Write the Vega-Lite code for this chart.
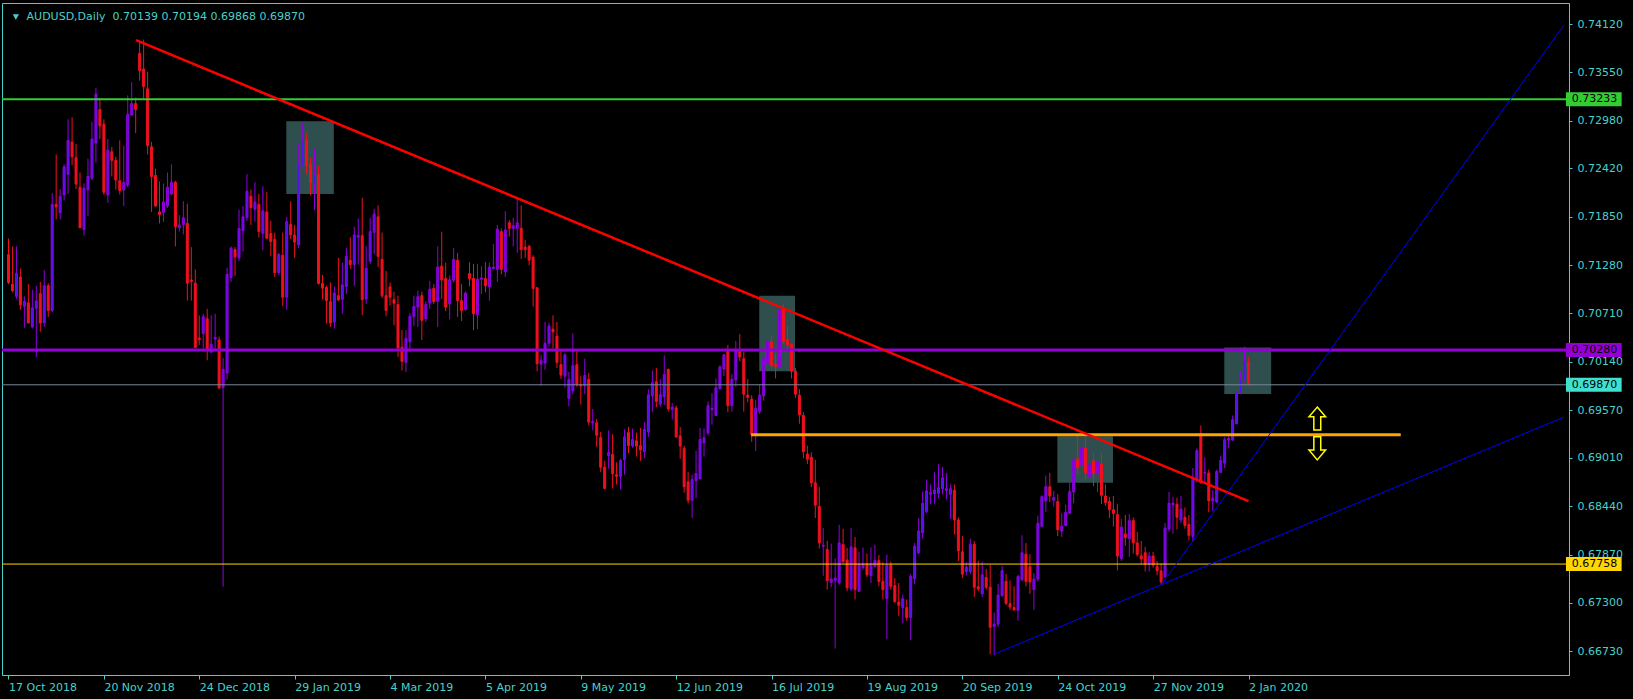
{
"$schema":"https://vega.github.io/schema/vega-lite/v6.json",
"width":1567,"height":672,
"autosize":{"type":"none"},
"padding":{"left":2,"top":3,"right":64,"bottom":24},
"background":"#000000",
"config":{"view":{"stroke":"#48D1CC","strokeWidth":1},"axis":{"grid":false}},
"datasets":{"one":[{}],"bars":[
{"i":0,"o":0.71404,"h":0.71593,"l":0.71055,"c":0.71075},
{"i":1,"o":0.71055,"h":0.715,"l":0.70959,"c":0.70978},
{"i":2,"o":0.70912,"h":0.715,"l":0.70881,"c":0.71183},
{"i":3,"o":0.7114,"h":0.71241,"l":0.70754,"c":0.70812},
{"i":4,"o":0.70796,"h":0.70912,"l":0.70541,"c":0.7085},
{"i":5,"o":0.70835,"h":0.71055,"l":0.70591,"c":0.70599},
{"i":6,"o":0.70552,"h":0.7099,"l":0.70533,"c":0.70777},
{"i":7,"o":0.70773,"h":0.71036,"l":0.70193,"c":0.70858},
{"i":8,"o":0.70943,"h":0.71082,"l":0.70494,"c":0.70599},
{"i":9,"o":0.70599,"h":0.71222,"l":0.70552,"c":0.71036},
{"i":10,"o":0.71036,"h":0.71067,"l":0.70668,"c":0.70746},
{"i":11,"o":0.70746,"h":0.72127,"l":0.70727,"c":0.71996},
{"i":12,"o":0.71996,"h":0.72584,"l":0.71818,"c":0.71965},
{"i":13,"o":0.71899,"h":0.72174,"l":0.71818,"c":0.72088},
{"i":14,"o":0.72108,"h":0.72468,"l":0.72042,"c":0.72437},
{"i":15,"o":0.72351,"h":0.72998,"l":0.72119,"c":0.7275},
{"i":16,"o":0.72731,"h":0.73021,"l":0.72456,"c":0.72557},
{"i":17,"o":0.72545,"h":0.72707,"l":0.72177,"c":0.72235},
{"i":18,"o":0.72197,"h":0.72371,"l":0.71713,"c":0.71721},
{"i":19,"o":0.71701,"h":0.72243,"l":0.71628,"c":0.72185},
{"i":20,"o":0.72166,"h":0.72533,"l":0.7186,"c":0.72324},
{"i":21,"o":0.72305,"h":0.72971,"l":0.72282,"c":0.72765},
{"i":22,"o":0.72719,"h":0.73369,"l":0.72487,"c":0.73295},
{"i":23,"o":0.73114,"h":0.73249,"l":0.72765,"c":0.7292},
{"i":24,"o":0.7294,"h":0.72998,"l":0.72108,"c":0.72139},
{"i":25,"o":0.72108,"h":0.72765,"l":0.72015,"c":0.72634},
{"i":26,"o":0.72615,"h":0.72673,"l":0.72324,"c":0.72514},
{"i":27,"o":0.72514,"h":0.72557,"l":0.7217,"c":0.72282},
{"i":28,"o":0.72274,"h":0.7275,"l":0.72112,"c":0.72158},
{"i":29,"o":0.72166,"h":0.72688,"l":0.71976,"c":0.72255},
{"i":30,"o":0.72224,"h":0.7328,"l":0.72197,"c":0.73056},
{"i":31,"o":0.73048,"h":0.73435,"l":0.7304,"c":0.73183},
{"i":32,"o":0.73183,"h":0.73253,"l":0.72835,"c":0.73114},
{"i":33,"o":0.73775,"h":0.73918,"l":0.73454,"c":0.7357},
{"i":34,"o":0.7359,"h":0.73938,"l":0.73241,"c":0.73385},
{"i":35,"o":0.73357,"h":0.73559,"l":0.72584,"c":0.72688},
{"i":36,"o":0.72673,"h":0.72731,"l":0.71907,"c":0.72324},
{"i":37,"o":0.72336,"h":0.72417,"l":0.71965,"c":0.71976},
{"i":38,"o":0.71907,"h":0.72266,"l":0.71771,"c":0.71876},
{"i":39,"o":0.71899,"h":0.72243,"l":0.7179,"c":0.72023},
{"i":40,"o":0.71976,"h":0.72371,"l":0.71953,"c":0.72197},
{"i":41,"o":0.72119,"h":0.72468,"l":0.721,"c":0.72255},
{"i":42,"o":0.72255,"h":0.72274,"l":0.715,"c":0.71732},
{"i":43,"o":0.71721,"h":0.71868,"l":0.71674,"c":0.71752},
{"i":44,"o":0.7176,"h":0.72034,"l":0.71643,"c":0.71837},
{"i":45,"o":0.71771,"h":0.72003,"l":0.70862,"c":0.71067},
{"i":46,"o":0.71106,"h":0.71493,"l":0.70862,"c":0.71086},
{"i":47,"o":0.71067,"h":0.7123,"l":0.703,"c":0.70309},
{"i":48,"o":0.70421,"h":0.70688,"l":0.7034,"c":0.70402},
{"i":49,"o":0.70475,"h":0.70707,"l":0.70301,"c":0.70672},
{"i":50,"o":0.70649,"h":0.70765,"l":0.70158,"c":0.70289},
{"i":51,"o":0.70255,"h":0.70688,"l":0.70243,"c":0.70347},
{"i":52,"o":0.70409,"h":0.70707,"l":0.70289,"c":0.70429},
{"i":53,"o":0.70398,"h":0.70436,"l":0.69817,"c":0.69833},
{"i":54,"o":0.69837,"h":0.70185,"l":0.6749,"c":0.7005},
{"i":55,"o":0.70011,"h":0.71249,"l":0.69933,"c":0.71172},
{"i":56,"o":0.71133,"h":0.715,"l":0.71083,"c":0.71481},
{"i":57,"o":0.71462,"h":0.71493,"l":0.71152,"c":0.71377},
{"i":58,"o":0.71365,"h":0.71934,"l":0.71326,"c":0.71713},
{"i":59,"o":0.71686,"h":0.71976,"l":0.71442,"c":0.71849},
{"i":60,"o":0.71841,"h":0.72352,"l":0.71802,"c":0.7215},
{"i":61,"o":0.72092,"h":0.7217,"l":0.71752,"c":0.71957},
{"i":62,"o":0.71938,"h":0.72255,"l":0.71791,"c":0.72023},
{"i":63,"o":0.71996,"h":0.72119,"l":0.71605,"c":0.71675},
{"i":64,"o":0.71655,"h":0.72208,"l":0.71454,"c":0.71918},
{"i":65,"o":0.71907,"h":0.72139,"l":0.71589,"c":0.71597},
{"i":66,"o":0.71651,"h":0.71802,"l":0.71384,"c":0.71558},
{"i":67,"o":0.71585,"h":0.71663,"l":0.71141,"c":0.71191},
{"i":68,"o":0.71191,"h":0.71423,"l":0.71164,"c":0.71404},
{"i":69,"o":0.71396,"h":0.71663,"l":0.70796,"c":0.70901},
{"i":70,"o":0.70901,"h":0.71849,"l":0.70754,"c":0.71791},
{"i":71,"o":0.7176,"h":0.72034,"l":0.71589,"c":0.71636},
{"i":72,"o":0.71636,"h":0.71752,"l":0.71365,"c":0.71551},
{"i":73,"o":0.7152,"h":0.72719,"l":0.71481,"c":0.72475},
{"i":74,"o":0.7246,"h":0.72959,"l":0.72441,"c":0.72739},
{"i":75,"o":0.72746,"h":0.72835,"l":0.72352,"c":0.72448},
{"i":76,"o":0.72468,"h":0.72545,"l":0.721,"c":0.72247},
{"i":77,"o":0.72243,"h":0.72653,"l":0.71926,"c":0.72344},
{"i":78,"o":0.72352,"h":0.72448,"l":0.7105,"c":0.71063},
{"i":79,"o":0.71063,"h":0.71164,"l":0.70874,"c":0.71009},
{"i":80,"o":0.71017,"h":0.71036,"l":0.70591,"c":0.70862},
{"i":81,"o":0.7085,"h":0.71075,"l":0.70552,"c":0.70599},
{"i":82,"o":0.7061,"h":0.71028,"l":0.70533,"c":0.70951},
{"i":83,"o":0.7092,"h":0.71365,"l":0.70854,"c":0.7087},
{"i":84,"o":0.70878,"h":0.71307,"l":0.70707,"c":0.71048},
{"i":85,"o":0.71028,"h":0.71481,"l":0.7094,"c":0.71384},
{"i":86,"o":0.71338,"h":0.71609,"l":0.71237,"c":0.71288},
{"i":87,"o":0.71288,"h":0.71733,"l":0.71036,"c":0.71636},
{"i":88,"o":0.71609,"h":0.71829,"l":0.71288,"c":0.71628},
{"i":89,"o":0.71628,"h":0.72073,"l":0.70688,"c":0.70874},
{"i":90,"o":0.70881,"h":0.715,"l":0.70823,"c":0.71241},
{"i":91,"o":0.71326,"h":0.71837,"l":0.71295,"c":0.71674},
{"i":92,"o":0.71667,"h":0.71945,"l":0.71411,"c":0.7188},
{"i":93,"o":0.71849,"h":0.71984,"l":0.71257,"c":0.71384},
{"i":94,"o":0.71346,"h":0.71663,"l":0.70893,"c":0.7092},
{"i":95,"o":0.7092,"h":0.7121,"l":0.70676,"c":0.70746},
{"i":96,"o":0.71024,"h":0.71075,"l":0.70804,"c":0.70901},
{"i":97,"o":0.70874,"h":0.70966,"l":0.70572,"c":0.70831},
{"i":98,"o":0.70816,"h":0.7092,"l":0.70197,"c":0.70301},
{"i":99,"o":0.70313,"h":0.70514,"l":0.70038,"c":0.70146},
{"i":100,"o":0.70135,"h":0.70514,"l":0.70019,"c":0.70417},
{"i":101,"o":0.70378,"h":0.70715,"l":0.70251,"c":0.70676},
{"i":102,"o":0.70676,"h":0.7092,"l":0.70564,"c":0.70792},
{"i":103,"o":0.70785,"h":0.70978,"l":0.70552,"c":0.70908},
{"i":104,"o":0.7092,"h":0.70966,"l":0.70398,"c":0.7063},
{"i":105,"o":0.70649,"h":0.70854,"l":0.70611,"c":0.70816},
{"i":106,"o":0.70835,"h":0.71094,"l":0.70765,"c":0.70997},
{"i":107,"o":0.71005,"h":0.71055,"l":0.70823,"c":0.7085},
{"i":108,"o":0.70854,"h":0.715,"l":0.70552,"c":0.71257},
{"i":109,"o":0.71268,"h":0.71674,"l":0.70881,"c":0.71106},
{"i":110,"o":0.71121,"h":0.71307,"l":0.70738,"c":0.70785},
{"i":111,"o":0.70823,"h":0.7116,"l":0.70641,"c":0.71106},
{"i":112,"o":0.71102,"h":0.71481,"l":0.71075,"c":0.71346},
{"i":113,"o":0.71338,"h":0.71423,"l":0.70669,"c":0.70862},
{"i":114,"o":0.70862,"h":0.71055,"l":0.70622,"c":0.70746},
{"i":115,"o":0.70761,"h":0.70966,"l":0.70738,"c":0.70951},
{"i":116,"o":0.71179,"h":0.71315,"l":0.71028,"c":0.71121},
{"i":117,"o":0.71125,"h":0.71295,"l":0.70514,"c":0.70707},
{"i":118,"o":0.70696,"h":0.71295,"l":0.70525,"c":0.71113},
{"i":119,"o":0.71113,"h":0.71268,"l":0.70939,"c":0.71129},
{"i":120,"o":0.71121,"h":0.71315,"l":0.70959,"c":0.71036},
{"i":121,"o":0.71024,"h":0.71307,"l":0.70862,"c":0.71257},
{"i":122,"o":0.71241,"h":0.71527,"l":0.7123,"c":0.71257},
{"i":123,"o":0.7123,"h":0.71752,"l":0.71082,"c":0.71705},
{"i":124,"o":0.71674,"h":0.71713,"l":0.71172,"c":0.7123},
{"i":125,"o":0.71202,"h":0.71914,"l":0.71141,"c":0.71694},
{"i":126,"o":0.71779,"h":0.7181,"l":0.71616,"c":0.71713},
{"i":127,"o":0.71713,"h":0.71837,"l":0.715,"c":0.71744},
{"i":128,"o":0.71713,"h":0.72061,"l":0.71423,"c":0.71779},
{"i":129,"o":0.71713,"h":0.71984,"l":0.71353,"c":0.71462},
{"i":130,"o":0.71493,"h":0.71578,"l":0.71365,"c":0.71462},
{"i":131,"o":0.715,"h":0.7152,"l":0.71276,"c":0.71338},
{"i":132,"o":0.71373,"h":0.71396,"l":0.70792,"c":0.71005},
{"i":133,"o":0.71013,"h":0.7102,"l":0.7003,"c":0.70119},
{"i":134,"o":0.70115,"h":0.70224,"l":0.69856,"c":0.70154},
{"i":135,"o":0.70127,"h":0.70611,"l":0.70049,"c":0.70359},
{"i":136,"o":0.70359,"h":0.70603,"l":0.7032,"c":0.7056},
{"i":137,"o":0.70525,"h":0.70688,"l":0.70301,"c":0.70494},
{"i":138,"o":0.70444,"h":0.7061,"l":0.70069,"c":0.70135},
{"i":139,"o":0.70107,"h":0.70262,"l":0.69941,"c":0.69984},
{"i":140,"o":0.69972,"h":0.70243,"l":0.69837,"c":0.70223},
{"i":141,"o":0.69709,"h":0.70022,"l":0.69616,"c":0.69933},
{"i":142,"o":0.69798,"h":0.70475,"l":0.69759,"c":0.70096},
{"i":143,"o":0.70107,"h":0.70262,"l":0.69848,"c":0.69868},
{"i":144,"o":0.69875,"h":0.69972,"l":0.69636,"c":0.69856},
{"i":145,"o":0.69856,"h":0.70177,"l":0.69759,"c":0.6998},
{"i":146,"o":0.69933,"h":0.70011,"l":0.69392,"c":0.69431},
{"i":147,"o":0.69419,"h":0.69585,"l":0.69334,"c":0.69438},
{"i":148,"o":0.69423,"h":0.69469,"l":0.6914,"c":0.69276},
{"i":149,"o":0.69249,"h":0.69314,"l":0.68842,"c":0.68897},
{"i":150,"o":0.689,"h":0.68974,"l":0.68637,"c":0.68649},
{"i":151,"o":0.69036,"h":0.69334,"l":0.68881,"c":0.69071},
{"i":152,"o":0.69051,"h":0.69287,"l":0.68649,"c":0.68823},
{"i":153,"o":0.68811,"h":0.68958,"l":0.68695,"c":0.68792},
{"i":154,"o":0.68792,"h":0.68997,"l":0.68637,"c":0.68978},
{"i":155,"o":0.68986,"h":0.69345,"l":0.68811,"c":0.69256},
{"i":156,"o":0.69307,"h":0.69372,"l":0.69063,"c":0.69152},
{"i":157,"o":0.69148,"h":0.69353,"l":0.69129,"c":0.69225},
{"i":158,"o":0.6921,"h":0.69307,"l":0.69024,"c":0.69148},
{"i":159,"o":0.69152,"h":0.69361,"l":0.68974,"c":0.69102},
{"i":160,"o":0.69082,"h":0.69431,"l":0.69005,"c":0.69345},
{"i":161,"o":0.69314,"h":0.69817,"l":0.69256,"c":0.69752},
{"i":162,"o":0.6974,"h":0.70038,"l":0.69547,"c":0.69895},
{"i":163,"o":0.69906,"h":0.70069,"l":0.69605,"c":0.69674},
{"i":164,"o":0.69643,"h":0.69933,"l":0.69612,"c":0.69752},
{"i":165,"o":0.69728,"h":0.70216,"l":0.69632,"c":0.69991},
{"i":166,"o":0.7005,"h":0.70061,"l":0.69554,"c":0.69585},
{"i":167,"o":0.69578,"h":0.69655,"l":0.69461,"c":0.69605},
{"i":168,"o":0.69597,"h":0.69624,"l":0.69245,"c":0.69256},
{"i":169,"o":0.69268,"h":0.69372,"l":0.68997,"c":0.69148},
{"i":170,"o":0.69121,"h":0.69152,"l":0.68599,"c":0.68668},
{"i":171,"o":0.68726,"h":0.68842,"l":0.68471,"c":0.6851},
{"i":172,"o":0.6851,"h":0.68811,"l":0.68301,"c":0.68753},
{"i":173,"o":0.68742,"h":0.6909,"l":0.68533,"c":0.68823},
{"i":174,"o":0.68765,"h":0.69361,"l":0.68753,"c":0.69225},
{"i":175,"o":0.69187,"h":0.69353,"l":0.69024,"c":0.69245},
{"i":176,"o":0.69303,"h":0.69674,"l":0.69276,"c":0.69624},
{"i":177,"o":0.69578,"h":0.69771,"l":0.694,"c":0.69593},
{"i":178,"o":0.69508,"h":0.69945,"l":0.695,"c":0.69837},
{"i":179,"o":0.69825,"h":0.701,"l":0.69817,"c":0.7008},
{"i":180,"o":0.70057,"h":0.70231,"l":0.69972,"c":0.70223},
{"i":181,"o":0.70262,"h":0.7034,"l":0.69547,"c":0.69624},
{"i":182,"o":0.69624,"h":0.69992,"l":0.69554,"c":0.69934},
{"i":183,"o":0.69926,"h":0.70386,"l":0.69848,"c":0.70262},
{"i":184,"o":0.70262,"h":0.70467,"l":0.70146,"c":0.70197},
{"i":185,"o":0.70177,"h":0.70262,"l":0.69554,"c":0.69759},
{"i":186,"o":0.69748,"h":0.69934,"l":0.69663,"c":0.69721},
{"i":187,"o":0.69701,"h":0.69748,"l":0.69198,"c":0.69284},
{"i":188,"o":0.69284,"h":0.69694,"l":0.6909,"c":0.69593},
{"i":189,"o":0.69554,"h":0.69875,"l":0.69527,"c":0.69748},
{"i":190,"o":0.6974,"h":0.70224,"l":0.69682,"c":0.70185},
{"i":191,"o":0.70127,"h":0.70406,"l":0.701,"c":0.70386},
{"i":192,"o":0.70378,"h":0.70444,"l":0.7008,"c":0.70096},
{"i":193,"o":0.70108,"h":0.70243,"l":0.69945,"c":0.70088},
{"i":194,"o":0.7008,"h":0.70765,"l":0.70042,"c":0.70746},
{"i":195,"o":0.70765,"h":0.70816,"l":0.70351,"c":0.70378},
{"i":196,"o":0.70406,"h":0.70564,"l":0.70282,"c":0.7034},
{"i":197,"o":0.70347,"h":0.70359,"l":0.69945,"c":0.7003},
{"i":198,"o":0.7003,"h":0.70069,"l":0.69713,"c":0.69759},
{"i":199,"o":0.69748,"h":0.69817,"l":0.69411,"c":0.69516},
{"i":200,"o":0.69508,"h":0.69547,"l":0.69005,"c":0.69082},
{"i":201,"o":0.69055,"h":0.69152,"l":0.68935,"c":0.68993},
{"i":202,"o":0.69017,"h":0.69075,"l":0.68664,"c":0.68715},
{"i":203,"o":0.68715,"h":0.68986,"l":0.68301,"c":0.68452},
{"i":204,"o":0.68436,"h":0.68668,"l":0.67941,"c":0.68007},
{"i":205,"o":0.67968,"h":0.68185,"l":0.6762,"c":0.6798},
{"i":206,"o":0.67929,"h":0.6803,"l":0.67457,"c":0.67562},
{"i":207,"o":0.67542,"h":0.67999,"l":0.67488,"c":0.67581},
{"i":208,"o":0.67566,"h":0.67825,"l":0.66762,"c":0.67593},
{"i":209,"o":0.67535,"h":0.6822,"l":0.67515,"c":0.68007},
{"i":210,"o":0.67987,"h":0.68173,"l":0.67767,"c":0.67786},
{"i":211,"o":0.67806,"h":0.67949,"l":0.67438,"c":0.67477},
{"i":212,"o":0.67465,"h":0.68185,"l":0.67438,"c":0.6796},
{"i":213,"o":0.67949,"h":0.68076,"l":0.67341,"c":0.67457},
{"i":214,"o":0.67438,"h":0.67902,"l":0.6743,"c":0.67759},
{"i":215,"o":0.6772,"h":0.67953,"l":0.6769,"c":0.67759},
{"i":216,"o":0.67759,"h":0.67883,"l":0.67604,"c":0.67631},
{"i":217,"o":0.67624,"h":0.67953,"l":0.67535,"c":0.67759},
{"i":218,"o":0.67728,"h":0.67987,"l":0.6772,"c":0.67798},
{"i":219,"o":0.67798,"h":0.67864,"l":0.67496,"c":0.67554},
{"i":220,"o":0.67554,"h":0.67779,"l":0.67341,"c":0.67457},
{"i":221,"o":0.67353,"h":0.67871,"l":0.66878,"c":0.67747},
{"i":222,"o":0.67747,"h":0.67786,"l":0.67457,"c":0.67496},
{"i":223,"o":0.67504,"h":0.67593,"l":0.67303,"c":0.67314},
{"i":224,"o":0.6731,"h":0.67535,"l":0.67148,"c":0.67272},
{"i":225,"o":0.67245,"h":0.67399,"l":0.67064,"c":0.67349},
{"i":226,"o":0.67245,"h":0.67341,"l":0.6709,"c":0.67128},
{"i":227,"o":0.67128,"h":0.67639,"l":0.6686,"c":0.67612},
{"i":228,"o":0.67585,"h":0.68007,"l":0.67523,"c":0.67968},
{"i":229,"o":0.67891,"h":0.68297,"l":0.67871,"c":0.68146},
{"i":230,"o":0.68127,"h":0.68611,"l":0.68057,"c":0.68471},
{"i":231,"o":0.68378,"h":0.68754,"l":0.68359,"c":0.68619},
{"i":232,"o":0.6858,"h":0.68696,"l":0.68463,"c":0.68599},
{"i":233,"o":0.68587,"h":0.68839,"l":0.68471,"c":0.6863},
{"i":234,"o":0.68591,"h":0.68935,"l":0.68529,"c":0.68657},
{"i":235,"o":0.68645,"h":0.68901,"l":0.6858,"c":0.68773},
{"i":236,"o":0.68626,"h":0.68831,"l":0.68521,"c":0.68645},
{"i":237,"o":0.6858,"h":0.68696,"l":0.68289,"c":0.68645},
{"i":238,"o":0.68626,"h":0.68696,"l":0.68104,"c":0.68278},
{"i":239,"o":0.68278,"h":0.68309,"l":0.67794,"c":0.67914},
{"i":240,"o":0.67902,"h":0.68088,"l":0.67593,"c":0.67639},
{"i":241,"o":0.6767,"h":0.67779,"l":0.67624,"c":0.67721},
{"i":242,"o":0.6767,"h":0.68057,"l":0.67639,"c":0.67991},
{"i":243,"o":0.67991,"h":0.6803,"l":0.67372,"c":0.67485},
{"i":244,"o":0.67489,"h":0.67798,"l":0.67438,"c":0.67465},
{"i":245,"o":0.67407,"h":0.67786,"l":0.67372,"c":0.67632},
{"i":246,"o":0.67601,"h":0.67701,"l":0.67458,"c":0.67485},
{"i":247,"o":0.67485,"h":0.67748,"l":0.66695,"c":0.67013},
{"i":248,"o":0.67024,"h":0.67187,"l":0.66684,"c":0.67051},
{"i":249,"o":0.67051,"h":0.67523,"l":0.67013,"c":0.67392},
{"i":250,"o":0.67388,"h":0.67736,"l":0.67369,"c":0.67678},
{"i":251,"o":0.67554,"h":0.67643,"l":0.67276,"c":0.67295},
{"i":252,"o":0.67291,"h":0.67566,"l":0.67218,"c":0.67252},
{"i":253,"o":0.67245,"h":0.67496,"l":0.67206,"c":0.67218},
{"i":254,"o":0.67214,"h":0.67632,"l":0.6709,"c":0.67612},
{"i":255,"o":0.67574,"h":0.68096,"l":0.67554,"c":0.67891},
{"i":256,"o":0.67875,"h":0.68007,"l":0.67496,"c":0.67554},
{"i":257,"o":0.67728,"h":0.67875,"l":0.67407,"c":0.67546},
{"i":258,"o":0.67458,"h":0.67651,"l":0.67218,"c":0.67581},
{"i":259,"o":0.67581,"h":0.68328,"l":0.67554,"c":0.68239},
{"i":260,"o":0.68204,"h":0.68568,"l":0.68193,"c":0.68552},
{"i":261,"o":0.68502,"h":0.688,"l":0.68374,"c":0.68669},
{"i":262,"o":0.68669,"h":0.68831,"l":0.68491,"c":0.6856},
{"i":263,"o":0.6851,"h":0.68619,"l":0.68436,"c":0.68541},
{"i":264,"o":0.68494,"h":0.6858,"l":0.68088,"c":0.68162},
{"i":265,"o":0.68146,"h":0.68355,"l":0.68077,"c":0.68204},
{"i":266,"o":0.68212,"h":0.68456,"l":0.682,"c":0.68367},
{"i":267,"o":0.68359,"h":0.68715,"l":0.68347,"c":0.68611},
{"i":268,"o":0.68607,"h":0.69044,"l":0.68475,"c":0.68986},
{"i":269,"o":0.68997,"h":0.69264,"l":0.68823,"c":0.68889},
{"i":270,"o":0.68928,"h":0.6921,"l":0.68901,"c":0.69121},
{"i":271,"o":0.69129,"h":0.69257,"l":0.68754,"c":0.68831},
{"i":272,"o":0.68781,"h":0.69264,"l":0.68765,"c":0.68928},
{"i":273,"o":0.68974,"h":0.69063,"l":0.68676,"c":0.68823},
{"i":274,"o":0.68819,"h":0.69133,"l":0.68607,"c":0.68966},
{"i":275,"o":0.68935,"h":0.69071,"l":0.68463,"c":0.68568},
{"i":276,"o":0.6856,"h":0.68696,"l":0.68444,"c":0.68483},
{"i":277,"o":0.68494,"h":0.68549,"l":0.68301,"c":0.68398},
{"i":278,"o":0.68398,"h":0.6856,"l":0.682,"c":0.68355},
{"i":279,"o":0.6834,"h":0.68463,"l":0.67682,"c":0.67852},
{"i":280,"o":0.67825,"h":0.68289,"l":0.67794,"c":0.68193},
{"i":281,"o":0.68111,"h":0.68336,"l":0.67972,"c":0.68069},
{"i":282,"o":0.68057,"h":0.68347,"l":0.67844,"c":0.6827},
{"i":283,"o":0.6827,"h":0.68309,"l":0.67883,"c":0.68007},
{"i":284,"o":0.68007,"h":0.68134,"l":0.67844,"c":0.67871},
{"i":285,"o":0.67856,"h":0.6803,"l":0.67759,"c":0.67817},
{"i":286,"o":0.67891,"h":0.6796,"l":0.6767,"c":0.67759},
{"i":287,"o":0.67755,"h":0.67902,"l":0.6767,"c":0.67852},
{"i":288,"o":0.67852,"h":0.67902,"l":0.67717,"c":0.67748},
{"i":289,"o":0.67728,"h":0.67794,"l":0.67624,"c":0.67678},
{"i":290,"o":0.67678,"h":0.67767,"l":0.67516,"c":0.67547},
{"i":291,"o":0.67612,"h":0.68243,"l":0.67601,"c":0.68181},
{"i":292,"o":0.68173,"h":0.68607,"l":0.68142,"c":0.68475},
{"i":293,"o":0.68456,"h":0.68549,"l":0.68115,"c":0.68475},
{"i":294,"o":0.68463,"h":0.68541,"l":0.68165,"c":0.68309},
{"i":295,"o":0.68278,"h":0.6856,"l":0.68239,"c":0.68405},
{"i":296,"o":0.68309,"h":0.68425,"l":0.68173,"c":0.68212},
{"i":297,"o":0.68224,"h":0.68336,"l":0.68038,"c":0.68096},
{"i":298,"o":0.68084,"h":0.68889,"l":0.68018,"c":0.68781},
{"i":299,"o":0.68754,"h":0.69121,"l":0.68715,"c":0.69094},
{"i":300,"o":0.69295,"h":0.69392,"l":0.68707,"c":0.68715},
{"i":301,"o":0.68831,"h":0.69017,"l":0.68715,"c":0.68839},
{"i":302,"o":0.68831,"h":0.6887,"l":0.68367,"c":0.68502},
{"i":303,"o":0.68502,"h":0.6863,"l":0.68386,"c":0.68533},
{"i":304,"o":0.6849,"h":0.6887,"l":0.68475,"c":0.6885},
{"i":305,"o":0.68839,"h":0.69032,"l":0.68831,"c":0.68978},
{"i":306,"o":0.68947,"h":0.69257,"l":0.68889,"c":0.69226},
{"i":307,"o":0.69218,"h":0.69295,"l":0.69121,"c":0.69237},
{"i":308,"o":0.69218,"h":0.69508,"l":0.6921,"c":0.69458},
{"i":309,"o":0.69411,"h":0.69798,"l":0.69404,"c":0.69787},
{"i":310,"o":0.69779,"h":0.70023,"l":0.69767,"c":0.69926},
{"i":311,"o":0.69926,"h":0.7032,"l":0.69914,"c":0.70158},
{"i":312,"o":0.70139,"h":0.70194,"l":0.69868,"c":0.6987}
]},
"layer":[
{"data":{"values":[{"a":69.9,"b":81.85,"lo":0.72119,"hi":0.72975},{"a":188.9,"b":197.9,"lo":0.7003,"hi":0.7092},{"a":263.9,"b":277.9,"lo":0.68715,"hi":0.69264},{"a":305.9,"b":317.7,"lo":0.6976,"hi":0.70309}]},
 "mark":{"type":"rect","color":"#2F4F4F"},
 "encoding":{"x":{"field":"a","type":"quantitative","scale":{"domain":[-0.375,391.375],"nice":false,"zero":false}},"x2":{"field":"b"},
 "y":{"field":"lo","type":"quantitative","scale":{"domain":[0.665097,0.743092],"nice":false,"zero":false}},"y2":{"field":"hi"}}},
{"data":{"name":"bars"},
 "mark":{"type":"rule","strokeWidth":1},
 "encoding":{"x":{"field":"i","type":"quantitative","scale":{"domain":[-0.375,391.375],"nice":false,"zero":false},
   "axis":{"values":[0,24,48,72,96,120,144,168,192,216,240,264,288,312],"labelExpr":"datum.value==0?'17 Oct 2018':datum.value==24?'20 Nov 2018':datum.value==48?'24 Dec 2018':datum.value==72?'29 Jan 2019':datum.value==96?'4 Mar 2019':datum.value==120?'5 Apr 2019':datum.value==144?'9 May 2019':datum.value==168?'12 Jun 2019':datum.value==192?'16 Jul 2019':datum.value==216?'19 Aug 2019':datum.value==240?'20 Sep 2019':datum.value==264?'24 Oct 2019':datum.value==288?'27 Nov 2019':'2 Jan 2020'","title":null,"grid":false,"domainColor":"#48D1CC","tickColor":"#48D1CC","tickSize":4,"labelColor":"#48D1CC","labelFont":"DejaVu Sans","labelFontSize":11,"labelAlign":"left","labelBaseline":"top","labelPadding":2,"labelOverlap":false,"labelBound":false,"labelFlush":false}},
  "y":{"field":"l","type":"quantitative","scale":{"domain":[0.665097,0.743092],"nice":false,"zero":false},
   "axis":{"orient":"right","values":[0.6673,0.673,0.6787,0.6844,0.6901,0.6957,0.7014,0.7071,0.7128,0.7185,0.7242,0.7298,0.7355,0.7412],"format":".5f","title":null,"grid":false,"domainColor":"#48D1CC","tickColor":"#48D1CC","tickSize":3,"labelColor":"#48D1CC","labelFont":"DejaVu Sans","labelFontSize":11,"labelAlign":"left","labelBaseline":"middle","labelPadding":5,"labelOverlap":false,"labelBound":false,"labelFlush":false}},
  "y2":{"field":"h"},
  "color":{"condition":{"test":"datum.c >= datum.o","value":"#9000E0"},"value":"#F0101E"}}},
{"data":{"name":"bars"},
 "mark":{"type":"bar","width":2,"strokeWidth":1},
 "encoding":{"x":{"field":"i","type":"quantitative","scale":{"domain":[-0.375,391.375],"nice":false,"zero":false}},
  "y":{"field":"o","type":"quantitative","scale":{"domain":[0.665097,0.743092],"nice":false,"zero":false}},
  "y2":{"field":"c"},
  "fill":{"condition":{"test":"datum.c >= datum.o","value":"#4A14F0"},"value":"#F0101E"},
  "stroke":{"condition":{"test":"datum.c >= datum.o","value":"#9000E0"},"value":"#F0101E"}}},
{"data":{"name":"one"},"mark":{"type":"rule","color":"#32CD32","strokeWidth":2},"encoding":{"y":{"datum":0.73233,"type":"quantitative","scale":{"domain":[0.665097,0.743092],"nice":false,"zero":false}}}},
{"data":{"name":"one"},"mark":{"type":"rule","color":"#9400D3","strokeWidth":3},"encoding":{"y":{"datum":0.7028,"type":"quantitative","scale":{"domain":[0.665097,0.743092],"nice":false,"zero":false}}}},
{"data":{"name":"one"},"mark":{"type":"rule","color":"#778899","strokeWidth":1},"encoding":{"y":{"datum":0.6987,"type":"quantitative","scale":{"domain":[0.665097,0.743092],"nice":false,"zero":false}}}},
{"data":{"name":"one"},"mark":{"type":"rule","color":"#FFD700","strokeWidth":1},"encoding":{"y":{"datum":0.67758,"type":"quantitative","scale":{"domain":[0.665097,0.743092],"nice":false,"zero":false}}}},
{"data":{"name":"one"},"mark":{"type":"rule","color":"#FFA500","strokeWidth":3},"encoding":{"x":{"datum":186.85,"type":"quantitative","scale":{"domain":[-0.375,391.375],"nice":false,"zero":false}},"x2":{"datum":350.3},"y":{"datum":0.6928,"type":"quantitative","scale":{"domain":[0.665097,0.743092],"nice":false,"zero":false}}}},
{"data":{"name":"one"},"mark":{"type":"rule","color":"#FF0000","strokeWidth":2.5},"encoding":{"x":{"datum":32.1,"type":"quantitative","scale":{"domain":[-0.375,391.375],"nice":false,"zero":false}},"x2":{"datum":312},"y":{"datum":0.7393,"type":"quantitative","scale":{"domain":[0.665097,0.743092],"nice":false,"zero":false}},"y2":{"datum":0.685}}},
{"data":{"name":"one"},"mark":{"type":"rule","color":"#0000FF","strokeWidth":1},"encoding":{"x":{"datum":248,"type":"quantitative","scale":{"domain":[-0.375,391.375],"nice":false,"zero":false}},"x2":{"datum":391.375},"y":{"datum":0.66696,"type":"quantitative","scale":{"domain":[0.665097,0.743092],"nice":false,"zero":false}},"y2":{"datum":0.69489}}},
{"data":{"name":"one"},"mark":{"type":"rule","color":"#0000FF","strokeWidth":1},"encoding":{"x":{"datum":290.1,"type":"quantitative","scale":{"domain":[-0.375,391.375],"nice":false,"zero":false}},"x2":{"datum":391.375},"y":{"datum":0.67516,"type":"quantitative","scale":{"domain":[0.665097,0.743092],"nice":false,"zero":false}},"y2":{"datum":0.74109}}},
{"data":{"name":"one"},"mark":{"type":"point","shape":"M0,-1L0.72,-0.15L0.3,-0.15L0.3,1L-0.3,1L-0.3,-0.15L-0.72,-0.15Z","size":529,"stroke":"#FFFF00","strokeWidth":1.5,"fill":"#000000","filled":true,"opacity":1,"strokeOpacity":1},"encoding":{"x":{"datum":329.3,"type":"quantitative","scale":{"domain":[-0.375,391.375],"nice":false,"zero":false}},"y":{"datum":0.69472,"type":"quantitative","scale":{"domain":[0.665097,0.743092],"nice":false,"zero":false}}}},
{"data":{"name":"one"},"mark":{"type":"point","shape":"M0,1L0.72,0.15L0.3,0.15L0.3,-1L-0.3,-1L-0.3,0.15L-0.72,0.15Z","size":529,"stroke":"#FFFF00","strokeWidth":1.5,"fill":"#000000","filled":true,"opacity":1,"strokeOpacity":1},"encoding":{"x":{"datum":329.3,"type":"quantitative","scale":{"domain":[-0.375,391.375],"nice":false,"zero":false}},"y":{"datum":0.69121,"type":"quantitative","scale":{"domain":[0.665097,0.743092],"nice":false,"zero":false}}}},
{"data":{"values":[{"p":0.73233},{"p":0.7028},{"p":0.6987},{"p":0.67758}]},
 "mark":{"type":"bar","orient":"horizontal","height":14},
 "encoding":{"x":{"datum":391.875,"type":"quantitative","scale":{"domain":[-0.375,391.375],"nice":false,"zero":false}},"x2":{"datum":405.875},
  "y":{"field":"p","type":"quantitative","scale":{"domain":[0.665097,0.743092],"nice":false,"zero":false}},
  "color":{"field":"p","type":"nominal","scale":{"domain":[0.73233,0.7028,0.6987,0.67758],"range":["#32CD32","#9400D3","#40E0D0","#FFD700"]},"legend":null}}},
{"data":{"values":[{"p":0.73233},{"p":0.7028},{"p":0.6987},{"p":0.67758}]},
 "mark":{"type":"text","align":"left","baseline":"middle","font":"DejaVu Sans","fontSize":11,"color":"#000000"},
 "encoding":{"x":{"datum":393.3,"type":"quantitative","scale":{"domain":[-0.375,391.375],"nice":false,"zero":false}},
  "y":{"field":"p","type":"quantitative","scale":{"domain":[0.665097,0.743092],"nice":false,"zero":false}},
  "text":{"field":"p","type":"quantitative","format":".5f"}}},
{"data":{"name":"one"},"mark":{"type":"point","shape":"triangle-down","size":40,"filled":true,"color":"#48D1CC","opacity":1},"encoding":{"x":{"datum":1.85,"type":"quantitative","scale":{"domain":[-0.375,391.375],"nice":false,"zero":false}},"y":{"datum":0.74202,"type":"quantitative","scale":{"domain":[0.665097,0.743092],"nice":false,"zero":false}}}},
{"data":{"name":"one"},"mark":{"type":"text","align":"left","baseline":"middle","font":"DejaVu Sans","fontSize":11,"color":"#48D1CC","text":"AUDUSD,Daily\u00a0\u00a00.70139 0.70194 0.69868 0.69870"},"encoding":{"x":{"datum":4.55,"type":"quantitative","scale":{"domain":[-0.375,391.375],"nice":false,"zero":false}},"y":{"datum":0.74199,"type":"quantitative","scale":{"domain":[0.665097,0.743092],"nice":false,"zero":false}}}}
]
}
